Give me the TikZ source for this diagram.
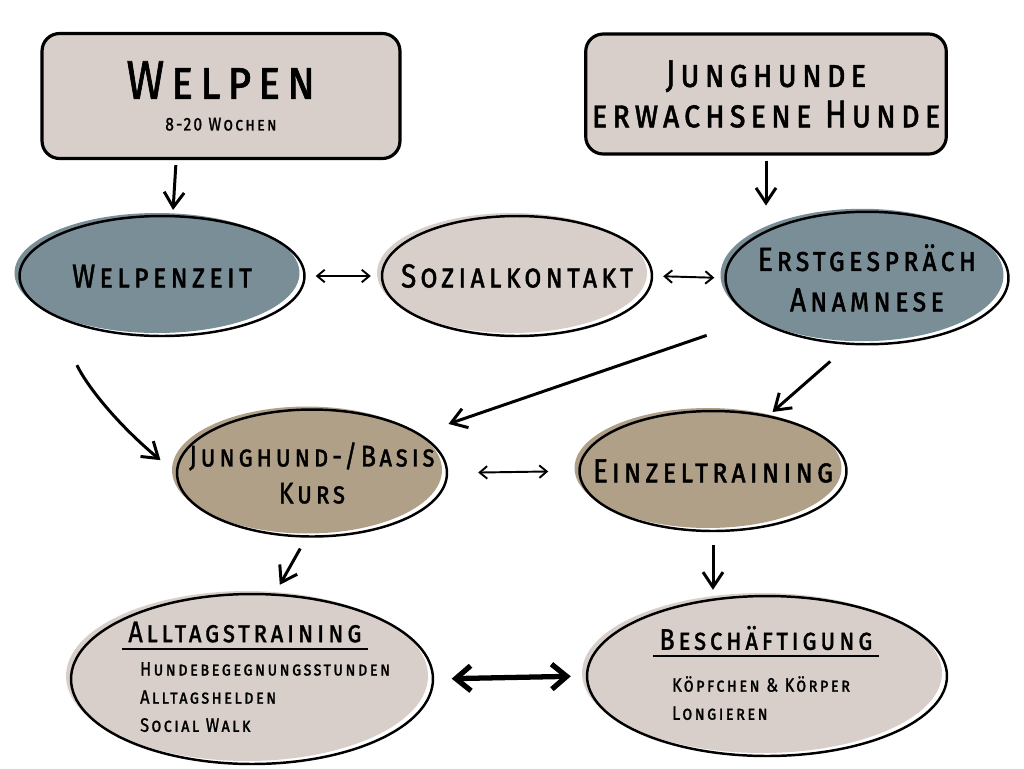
\documentclass[tikz,border=0pt]{standalone}
\usepackage{fontspec}
\newfontfamily\handfont[LetterSpace=12, FakeStretch=0.84, FakeBold=1.2]{Fira Sans}
\usetikzlibrary{arrows.meta,positioning,shapes.geometric}

\definecolor{pale}{HTML}{D9CFCA}
\definecolor{slate}{HTML}{7A8E97}
\definecolor{sand}{HTML}{B1A088}

\tikzset{
	box/.style={draw, rounded corners=0.35cm, line width=1.8pt, fill=pale, align=center},
	blob/.style={ellipse, draw, line width=1.4pt, align=center, inner xsep=-1.5cm, inner ysep=-0.6cm,
		preaction={fill=#1, transform canvas={shift={(-0.1cm,0.06cm)}}}},
	label/.style={font=\handfont\fontsize{19}{23}\selectfont\scshape},
	head/.style={font=\handfont\fontsize{17}{20}\selectfont\scshape},
	list/.style={font=\handfont\fontsize{11}{16}\selectfont\scshape, align=left, anchor=north west},
	arr/.style={-{Straight Barb[length=3mm,width=4mm]}, line width=1.7pt, shorten <=0.1cm, shorten >=0.1cm},
	link/.style={{Straight Barb[length=1.5mm,width=2.5mm]}-{Straight Barb[length=1.5mm,width=2.5mm]}, line width=1.1pt}
}

\begin{document}
\begin{tikzpicture}[x=0.02cm,y=-0.02cm]
	\path[use as bounding box, fill=white] (0,0) rectangle (1024,768);
	% Draw top boxes
	\node[box, minimum width=7.16cm, minimum height=2.5cm, font=\handfont\fontsize{10.5}{18}\selectfont\scshape] (welpen) at (221,96)
		{{\fontsize{31}{34}\selectfont Welpen}\\8-20 Wochen};
	\node[box, minimum width=7.14cm, minimum height=2.4cm, font=\handfont\fontsize{22}{23}\selectfont\scshape] (jh) at (766,94)
		{Junghunde\\erwachsene Hunde};
	% Draw blobs
	\node[blob=slate, label, minimum width=5.7cm, minimum height=2.4cm] (wz) at (162,276) {Welpenzeit};
	\node[blob=pale, label, minimum width=5.4cm, minimum height=2.4cm] (sk) at (517,276) {Sozialkontakt};
	\node[blob=slate, label, minimum width=5.66cm, minimum height=2.65cm] (es) at (867,278) {Erstgespräch\\Anamnese};
	\node[blob=sand, label, font=\handfont\fontsize{17}{21}\selectfont\scshape, minimum width=5.4cm, minimum height=2.54cm] (jb) at (312,473) {Junghund-/Basis\\Kurs};
	\node[blob=sand, label, minimum width=5.34cm, minimum height=2.4cm] (et) at (713,471) {Einzeltraining};
	\node[blob=pale, minimum width=7.24cm, minimum height=3.4cm] (at) at (252,679) {};
	\node[blob=pale, minimum width=7.2cm, minimum height=3.2cm] (bs) at (767,676) {};
	% Texts of the lower blobs
	\node[head] (atHead) at (245,632) {Alltagstraining};
	\draw[line width=1.2pt] (atHead.south west) -- (atHead.south east);
	\node[list] (atList) at (134,656) {Hundebegegnungsstunden\\Alltagshelden\\Social Walk};
	\node[head] (bsHead) at (766,638) {Beschäftigung};
	\draw[line width=1.2pt] (bsHead.south west) -- (bsHead.south east);
	\node[list] (bsList) at (666,670) {Köpfchen \& Körper\\Longieren};
	% Draw arrows
	\draw[arr] (welpen.235) -- (wz.80);
	\draw[arr] (jh.south) -- (jh.south |- es.north);
	\draw[arr, shorten <=1.1cm, shorten >=0.4cm] (wz.200) to[bend right=12] (jb.west);
	\draw[arr, shorten <=1cm, shorten >=0.6cm] (es.200) -- (jb.20);
	\draw[arr, shorten <=0.5cm] (es.255) -- (et.45);
	\draw[arr, shorten <=0.25cm, shorten >=0.2cm] (jb.265) -- (at.75);
	\draw[arr, shorten <=0.25cm] (et.south) -- (et.south |- bs.north);
	% Draw links
	\draw[link, shorten <=0.2cm, shorten >=0.2cm] (wz.east) -- (sk.west);
	\draw[link, shorten <=0.2cm, shorten >=0.2cm] (sk.east) -- (es.west);
	\draw[link, shorten <=0.6cm, shorten >=0.6cm] (jb.east) -- (et.west);
	\draw[{Straight Barb[length=3mm,width=5mm]}-{Straight Barb[length=3mm,width=5mm]}, line width=3pt, shorten <=0.35cm, shorten >=0.3cm] (at.east) -- (bs.west);
\end{tikzpicture}
\end{document}
